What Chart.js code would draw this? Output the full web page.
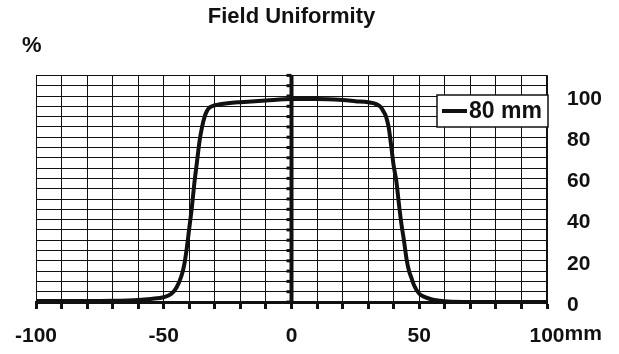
<!DOCTYPE html>
<html>
<head>
<meta charset="utf-8">
<script src="https://cdn.jsdelivr.net/npm/chart.js@4.4.0/dist/chart.umd.min.js"></script>
<style>
  html, body { margin: 0; padding: 0; background: #fff; }
</style>
</head>
<body>
<canvas id="myChart" width="619" height="354"></canvas>
<script>
// field profile, position in mm vs relative dose in %
const positions = [-100, -90, -80, -70, -60, -55, -50, -47, -45, -43, -42, -41, -40, -39, -38, -37, -36, -35, -34, -33, -32, -30, -28, -25, -20, -10, 0, 10, 20, 25, 30, 32, 34, 35, 36, 37, 38, 39, 40, 41, 42, 43, 44, 45, 46, 47, 48, 50, 52, 55, 58, 61, 70, 80, 90, 100];
const uniformity80 = [0.5, 0.5, 0.5, 0.6, 1, 1.5, 2.3, 4, 7, 13, 18, 26, 36, 46, 58, 68, 78, 85, 90, 93, 94.5, 95.5, 96, 96.5, 97, 97.8, 98.5, 98.5, 98, 97.5, 97, 96.5, 95.5, 94.5, 92.5, 90, 85, 76, 66, 59, 48, 38, 30, 21, 15, 11.5, 8, 4, 2.5, 1.2, 0.6, 0.2, 0, 0, 0, 0];
const seriesLabel = '80 mm';
const xTickLabels = [-100, -50, 0, 50, 100];
const yTickLabels = [0, 20, 40, 60, 80, 100];

const FONT = "'Liberation Sans', Arial, sans-serif";
const ink = '#111';

const extras = {
    id: 'extras',
    beforeDatasetsDraw(chart) {
        // thick axis through x = 0 with small ticks on its left
        const { ctx, chartArea, scales } = chart;
        const x0 = scales.x.getPixelForValue(0);
        ctx.save();
        ctx.strokeStyle = ink;
        ctx.lineWidth = 4;
        ctx.beginPath();
        ctx.moveTo(x0, chartArea.top);
        ctx.lineTo(x0, chartArea.bottom);
        ctx.stroke();
        ctx.lineWidth = 3;
        for (let v = 0; v <= scales.y.max; v += 5) {
            const y = scales.y.getPixelForValue(v);
            ctx.beginPath();
            ctx.moveTo(x0 - 5, y);
            ctx.lineTo(x0, y);
            ctx.stroke();
        }
        ctx.restore();
    },
    afterDraw(chart) {
        const { ctx, scales } = chart;
        ctx.save();
        ctx.fillStyle = ink;
        ctx.font = 'bold 22px ' + FONT;
        ctx.textBaseline = 'middle';
        ctx.textAlign = 'left';
        ctx.fillText('%', 22, 46);

        // unit after the last x label
        ctx.font = 'bold 21px ' + FONT;
        ctx.textBaseline = 'top';
        const xr = scales.x.getPixelForValue(100) + ctx.measureText('100').width / 2;
        ctx.fillText('mm', xr, scales.x.top + 7 + 15);

        // legend box
        const lx = 437, ly = 95, lw = 111, lh = 32;
        ctx.fillStyle = '#fff';
        ctx.fillRect(lx, ly, lw, lh);
        ctx.strokeStyle = ink;
        ctx.lineWidth = 1.5;
        ctx.strokeRect(lx, ly, lw, lh);
        ctx.lineWidth = 4;
        ctx.beginPath();
        ctx.moveTo(lx + 5, ly + lh / 2);
        ctx.lineTo(lx + 30, ly + lh / 2);
        ctx.stroke();
        ctx.fillStyle = ink;
        ctx.font = 'bold 23px ' + FONT;
        ctx.textBaseline = 'middle';
        ctx.fillText(chart.data.datasets[0].label, lx + 32, ly + lh / 2 + 1);
        ctx.restore();
    }
};

new Chart(document.getElementById('myChart'), {
    type: 'line',
    data: {
        datasets: [{
            label: seriesLabel,
            data: positions.map((x, i) => ({ x: x, y: uniformity80[i] })),
            borderColor: ink,
            borderWidth: 4,
            pointRadius: 0,
            cubicInterpolationMode: 'monotone',
            fill: false
        }]
    },
    options: {
        responsive: false,
        animation: false,
        layout: { padding: 0 },
        plugins: {
            legend: { display: false },
            tooltip: { enabled: false },
            title: {
                display: true,
                fullSize: false,
                text: 'Field Uniformity',
                color: ink,
                font: { family: FONT, size: 22, weight: 'bold' },
                padding: { top: 4, bottom: 45 }
            }
        },
        scales: {
            x: {
                type: 'linear',
                min: -100,
                max: 100,
                ticks: {
                    stepSize: 10,
                    autoSkip: false,
                    maxRotation: 0,
                    padding: 15,
                    color: ink,
                    font: { family: FONT, size: 21, weight: 'bold' },
                    callback: v => xTickLabels.includes(v) ? String(v) : ''
                },
                grid: { color: ink, lineWidth: 1, tickColor: ink, tickWidth: 3, tickLength: 7 },
                border: { color: ink, width: 3 },
                afterFit: s => { s.height = 52; }
            },
            y: {
                position: 'right',
                min: 0,
                max: 110,
                ticks: {
                    stepSize: 5,
                    autoSkip: false,
                    padding: 20,
                    labelOffset: 3,
                    color: ink,
                    font: { family: FONT, size: 21, weight: 'bold' },
                    callback: v => yTickLabels.includes(v) ? String(v) : ''
                },
                grid: { color: ink, lineWidth: 1, drawTicks: false },
                border: { color: ink, width: 1.5 },
                afterFit: s => { s.width = 72; }
            },
            // empty spacer on the left so the plot starts at the same place
            spacer: {
                type: 'linear',
                axis: 'y',
                position: 'left',
                display: true,
                ticks: { display: false },
                grid: { display: false, drawOnChartArea: false },
                border: { display: false },
                afterFit: s => { s.width = 33; }
            }
        }
    },
    plugins: [extras]
});
</script>
</body>
</html>
